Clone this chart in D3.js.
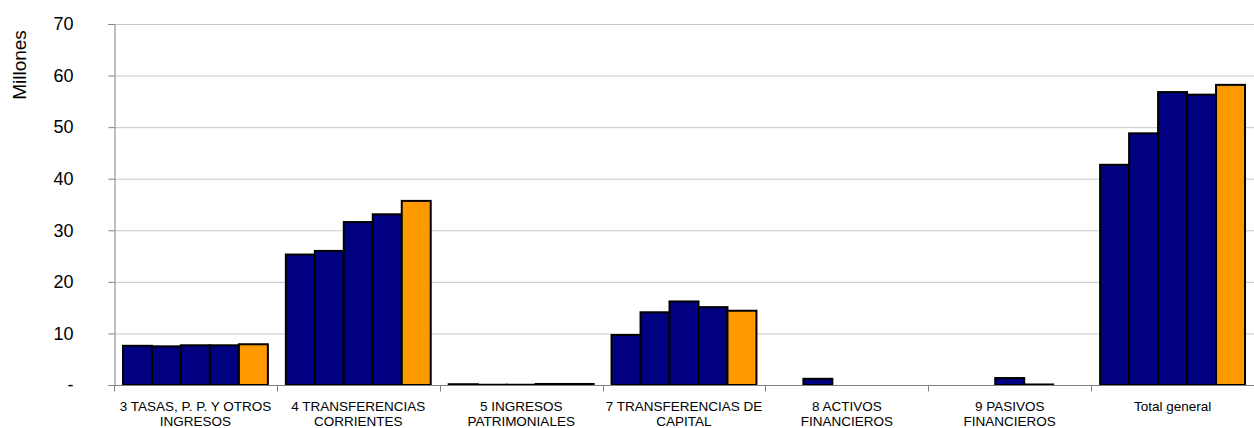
<!DOCTYPE html>
<html>
<head>
<meta charset="utf-8">
<script src="https://cdn.jsdelivr.net/npm/d3@7"></script>
<style>
  body { margin: 0; background: #fff; overflow: hidden; }
  svg { display: block; font-family: Arial, "Liberation Sans", sans-serif; }
</style>
</head>
<body>
<div id="canvas"></div>
<script>
// categorias (el "\n" marca el salto de linea de la etiqueta)
const categories = [
    "3 TASAS, P. P. Y OTROS\nINGRESOS",
    "4 TRANSFERENCIAS\nCORRIENTES",
    "5 INGRESOS\nPATRIMONIALES",
    "7 TRANSFERENCIAS DE\nCAPITAL",
    "8 ACTIVOS\nFINANCIEROS",
    "9 PASIVOS\nFINANCIEROS",
    "Total general"
];

const seriesNames = ["s1", "s2", "s3", "s4", "s5"];
const serie1 = [7.6, 25.3, 0.15, 9.7, 0, 0, 42.7];
const serie2 = [7.5, 26.0, 0.05, 14.1, 1.2, 0, 48.8];
const serie3 = [7.7, 31.6, 0.05, 16.2, 0, 1.35, 56.8];
const serie4 = [7.7, 33.1, 0.2, 15.1, 0, 0.1, 56.3];
const serie5 = [7.9, 35.7, 0.2, 14.4, 0, 0, 58.2];
const seriesColors = ["#000080", "#000080", "#000080", "#000080", "#FF9900"];

const yTicks = [0, 10, 20, 30, 40, 50, 60, 70];
const yTickLabels = ["-", "10", "20", "30", "40", "50", "60", "70"];

const allSeries = [serie1, serie2, serie3, serie4, serie5];

const width = 1254, height = 428;
const margin = {top: 24, right: 0, bottom: 43, left: 114};

const svg = d3.select("#canvas")
    .append("svg")
    .attr("width", width)
    .attr("height", height);

const x0 = d3.scaleBand()
    .domain(categories)
    .range([margin.left, width - margin.right])
    .padding(0);

const x1 = d3.scaleBand()
    .domain(seriesNames)
    .range([0, x0.bandwidth()])
    .paddingInner(0)
    .paddingOuter(0.31);

const y = d3.scaleLinear()
    .domain([0, 70])
    .range([height - margin.bottom, margin.top]);

// lineas de la cuadricula
svg.append("g")
    .selectAll("line")
    .data(yTicks.slice(1))
    .join("line")
    .attr("x1", margin.left)
    .attr("x2", width - margin.right)
    .attr("y1", d => y(d) + 0.5)
    .attr("y2", d => y(d) + 0.5)
    .style("stroke", "#c8c8c8")
    .style("stroke-width", 1);

// barras
const groups = svg.append("g")
    .selectAll("g")
    .data(seriesNames)
    .join("g")
    .style("fill", (d, i) => seriesColors[i]);

groups.selectAll("rect")
    .data((s, i) => allSeries[i].map((v, j) => ({serie: s, cat: categories[j], value: v})).filter(d => d.value > 0))
    .join("rect")
    .attr("x", d => x0(d.cat) + x1(d.serie))
    .attr("y", d => y(d.value))
    .attr("width", x1.bandwidth())
    .attr("height", d => y(0) - y(d.value))
    .style("stroke", "#000")
    .style("stroke-width", 2);

// eje Y
const yAxis = svg.append("g")
    .attr("transform", `translate(${margin.left + 0.5},0)`)
    .call(d3.axisLeft(y).tickValues(yTicks).tickSize(6).tickPadding(35)
        .tickFormat((d, i) => yTickLabels[i]));
yAxis.select(".domain").style("stroke", "#808080");
yAxis.selectAll(".tick line").style("stroke", "#808080");
yAxis.selectAll("text")
    .style("font-size", "18px")
    .style("fill", "#000")
    .style("font-family", "Arial, 'Liberation Sans', sans-serif");

// eje X
const xAxis = svg.append("g")
    .attr("transform", `translate(0,${y(0) + 0.5})`);
xAxis.append("line")
    .attr("x1", margin.left)
    .attr("x2", width)
    .style("stroke", "#808080");
xAxis.selectAll("line.sep")
    .data(categories)
    .join("line")
    .attr("class", "sep")
    .attr("x1", d => Math.round(x0(d)) + 0.5)
    .attr("x2", d => Math.round(x0(d)) + 0.5)
    .attr("y1", 0)
    .attr("y2", 6)
    .style("stroke", "#808080");

const labels = xAxis.selectAll("text")
    .data(categories)
    .join("text")
    .attr("text-anchor", "middle")
    .attr("x", d => x0(d) + x0.bandwidth() / 2)
    .attr("y", 25)
    .style("font-size", "13.5px")
    .style("fill", "#000");
labels.selectAll("tspan")
    .data(d => d.split("\n").map(t => ({t, cx: x0(d) + x0.bandwidth() / 2})))
    .join("tspan")
    .attr("x", d => d.cx)
    .attr("dy", (d, i) => i === 0 ? 0 : 15)
    .text(d => d.t);

// titulo del eje
svg.append("text")
    .attr("transform", "translate(26,65) rotate(-90)")
    .attr("text-anchor", "middle")
    .style("font-size", "19px")
    .text("Millones");
</script>
</body>
</html>
